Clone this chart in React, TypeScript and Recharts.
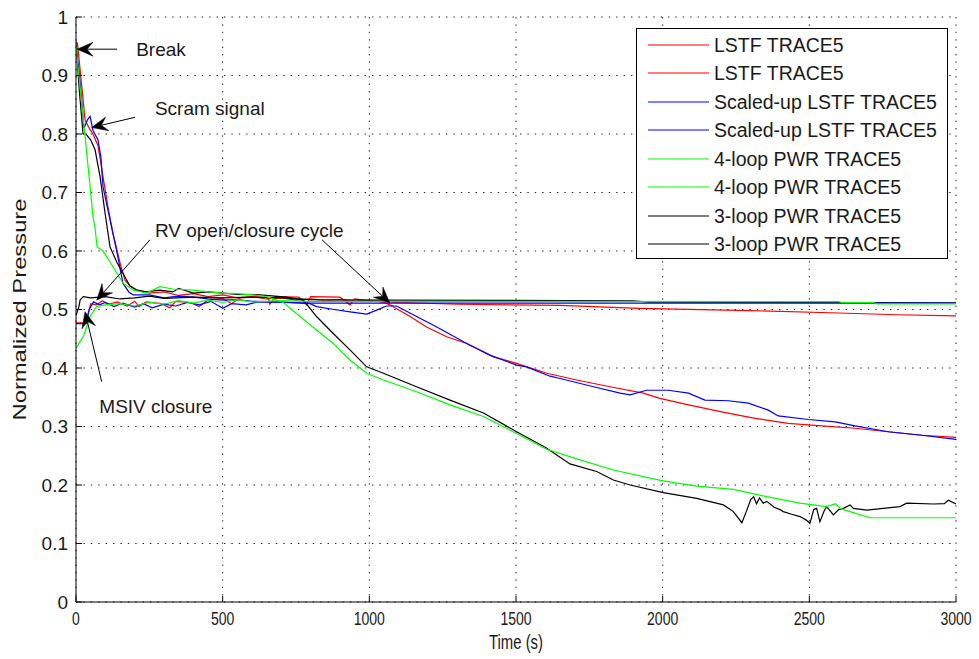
import React from 'react';
import { LineChart, Line, XAxis, YAxis, CartesianGrid, Legend, ReferenceLine, ReferenceDot } from 'recharts';

// ---- data: [time (s), normalized pressure] ----
const LSTF_A: number[][] = [
  [0, 0.958], [5, 0.955], [14, 0.91], [31, 0.824], [45, 0.81], [58, 0.8], [75, 0.78], [92, 0.727], [109, 0.675],
  [126, 0.63], [150, 0.58], [167, 0.55], [184, 0.54], [208, 0.533], [250, 0.528], [300, 0.53], [350, 0.524],
  [400, 0.527], [450, 0.522], [500, 0.525], [550, 0.52], [600, 0.522], [650, 0.518], [700, 0.52], [750, 0.516],
  [800, 0.518], [850, 0.515], [900, 0.517], [950, 0.514], [1000, 0.516], [1050, 0.512], [1070, 0.508],
  [1139, 0.488], [1195, 0.47], [1264, 0.4535], [1332, 0.442], [1423, 0.419], [1502, 0.408], [1605, 0.391],
  [1707, 0.3795], [1820, 0.368], [1934, 0.357], [1990, 0.348], [2088, 0.337], [2201, 0.325], [2315, 0.314],
  [2428, 0.3055], [2542, 0.301], [2656, 0.297], [2769, 0.291], [2883, 0.285], [3000, 0.2815],
];
const LSTF_B: number[][] = [
  [0, 0.477], [30, 0.477], [40, 0.49], [50, 0.51], [70, 0.508], [90, 0.515], [110, 0.509], [140, 0.513],
  [175, 0.506], [200, 0.514], [215, 0.505], [240, 0.513], [290, 0.51], [320, 0.503], [340, 0.514], [390, 0.512],
  [420, 0.505], [450, 0.516], [500, 0.519], [530, 0.51], [560, 0.52], [620, 0.522], [655, 0.52], [661, 0.509],
  [680, 0.522], [760, 0.521], [786, 0.508], [800, 0.522], [900, 0.521], [934, 0.508], [950, 0.518], [1000, 0.515],
  [1100, 0.512], [1300, 0.509], [1650, 0.507], [1922, 0.502], [2300, 0.498], [2600, 0.494], [2800, 0.491], [3000, 0.489],
];
const SCALED_A: number[][] = [
  [0, 0.95], [10, 0.91], [19, 0.86], [27, 0.81], [40, 0.825], [48, 0.83], [58, 0.806], [75, 0.79], [85, 0.76],
  [92, 0.71], [116, 0.653], [140, 0.597], [160, 0.545], [180, 0.53], [195, 0.525], [250, 0.525], [300, 0.52],
  [350, 0.523], [400, 0.521], [450, 0.518], [500, 0.516], [550, 0.517], [600, 0.514], [700, 0.513], [798, 0.51],
  [820, 0.505], [880, 0.5], [934, 0.496], [991, 0.492], [1025, 0.499], [1059, 0.506], [1093, 0.506], [1161, 0.488],
  [1230, 0.47], [1332, 0.442], [1411, 0.422], [1502, 0.405], [1536, 0.402], [1616, 0.386], [1650, 0.382],
  [1764, 0.368], [1855, 0.357], [1889, 0.354], [1945, 0.362], [2019, 0.362], [2088, 0.357], [2144, 0.345],
  [2224, 0.344], [2292, 0.34], [2360, 0.328], [2394, 0.318], [2497, 0.312], [2588, 0.308], [2656, 0.301],
  [2769, 0.291], [2883, 0.285], [3000, 0.278],
];
const SCALED_B: number[][] = [
  [0, 0.476], [35, 0.476], [45, 0.5], [60, 0.513], [80, 0.508], [100, 0.512], [130, 0.505], [160, 0.511],
  [200, 0.504], [230, 0.51], [260, 0.503], [300, 0.509], [340, 0.506], [380, 0.512], [420, 0.508], [460, 0.514],
  [500, 0.502], [530, 0.51], [580, 0.508], [620, 0.513], [700, 0.512], [800, 0.511], [3000, 0.511],
];
const PWR4_A: number[][] = [
  [0, 0.95], [14, 0.88], [31, 0.795], [48, 0.71], [58, 0.658], [65, 0.64], [70, 0.615], [72, 0.607], [92, 0.6],
  [126, 0.573], [160, 0.545], [195, 0.533], [240, 0.528], [286, 0.539], [330, 0.535], [400, 0.533], [450, 0.53],
  [500, 0.528], [550, 0.527], [600, 0.525], [650, 0.522], [684, 0.516], [707, 0.512], [764, 0.488], [820, 0.465],
  [877, 0.442], [934, 0.4137], [991, 0.391], [1048, 0.3795], [1161, 0.3595], [1275, 0.337], [1389, 0.317],
  [1502, 0.288], [1605, 0.261], [1718, 0.243], [1832, 0.2256], [1945, 0.213], [2002, 0.207], [2116, 0.198],
  [2241, 0.1926], [2355, 0.18], [2468, 0.169], [2559, 0.163], [2590, 0.168], [2605, 0.16], [2639, 0.1545],
  [2707, 0.144], [3000, 0.144],
];
const PWR4_B: number[][] = [
  [0, 0.434], [25, 0.454], [48, 0.488], [70, 0.505], [100, 0.508], [150, 0.51], [200, 0.506], [250, 0.512],
  [300, 0.509], [350, 0.515], [400, 0.511], [450, 0.516], [500, 0.512], [550, 0.517], [600, 0.513], [700, 0.515],
  [800, 0.514], [2600, 0.5135], [2610, 0.512], [2720, 0.512], [2730, 0.5095], [3000, 0.5095],
];
const PWR3_A: number[][] = [
  [0, 0.955], [12, 0.87], [24, 0.8], [34, 0.8], [50, 0.79], [65, 0.773], [82, 0.727], [99, 0.665], [116, 0.607],
  [140, 0.58], [160, 0.562], [184, 0.54], [208, 0.533], [240, 0.53], [286, 0.533], [330, 0.53], [350, 0.536],
  [400, 0.528], [450, 0.53], [500, 0.528], [550, 0.526], [627, 0.525], [718, 0.521], [775, 0.516], [820, 0.488],
  [877, 0.459], [934, 0.431], [991, 0.402], [1048, 0.391], [1161, 0.368], [1275, 0.345], [1389, 0.323],
  [1502, 0.291], [1605, 0.263], [1684, 0.236], [1775, 0.223], [1832, 0.2085], [1889, 0.2], [2002, 0.187],
  [2116, 0.177], [2207, 0.166], [2241, 0.1545], [2270, 0.1356], [2287, 0.157], [2300, 0.175], [2310, 0.18],
  [2320, 0.168], [2330, 0.178], [2343, 0.169], [2355, 0.172], [2380, 0.162], [2400, 0.158], [2411, 0.1545],
  [2440, 0.15], [2468, 0.146], [2490, 0.14], [2502, 0.1345], [2515, 0.158], [2525, 0.16], [2536, 0.137],
  [2550, 0.155], [2559, 0.163], [2582, 0.149], [2600, 0.158], [2616, 0.16], [2639, 0.166], [2650, 0.16],
  [2696, 0.157], [2752, 0.16], [2809, 0.163], [2832, 0.169], [2923, 0.1675], [2960, 0.168], [2974, 0.174],
  [3000, 0.1675],
];
const PWR3_B: number[][] = [
  [0, 0.49], [10, 0.505], [14, 0.516], [25, 0.522], [50, 0.52], [100, 0.522], [150, 0.518], [200, 0.52],
  [250, 0.523], [300, 0.519], [400, 0.521], [500, 0.52], [600, 0.521], [700, 0.52], [800, 0.517], [1000, 0.516],
  [1900, 0.515], [1950, 0.5125], [3000, 0.5115],
];

const seriesNames = [
  'LSTF TRACE5', 'LSTF TRACE5', 'Scaled-up LSTF TRACE5', 'Scaled-up LSTF TRACE5',
  '4-loop PWR TRACE5', '4-loop PWR TRACE5', '3-loop PWR TRACE5', '3-loop PWR TRACE5',
];
const seriesColors = ['#ff0000', '#ff0000', '#0000ff', '#0000ff', '#00ff00', '#00ff00', '#000000', '#000000'];
const seriesData = [LSTF_A, LSTF_B, SCALED_A, SCALED_B, PWR4_A, PWR4_B, PWR3_A, PWR3_B];
// drawing order (last on top): keep the flat green secondary above black/blue where the reference shows it
const drawOrder = [0, 1, 2, 6, 7, 3, 4, 5];

const xTicks = [0, 500, 1000, 1500, 2000, 2500, 3000];
const yTicks = [0, 0.1, 0.2, 0.3, 0.4, 0.5, 0.6, 0.7, 0.8, 0.9, 1];

const annotationTexts = [
  { label: 'Break', t: 205, v: 0.945 },
  { label: 'Scram signal', t: 269, v: 0.8436 },
  { label: 'RV open/closure cycle', t: 269, v: 0.6359 },
  { label: 'MSIV closure', t: 79.5, v: 0.3354 },
];
const annotationArrows = [
  { from: [140, 0.945], to: [3.4, 0.945] },
  { from: [201, 0.8285], to: [53.5, 0.811] },
  { from: [252, 0.619], to: [70.6, 0.516] },
  { from: [839, 0.619], to: [1070, 0.511] },
  { from: [87.6, 0.3766], to: [30.7, 0.4962] },
];

const toPts = (a: number[][]) => a.map(([t, v]) => ({ t, v }));

const FONT = "'Liberation Sans', Arial, sans-serif";
const TEXT = '#1a1a1a';
const TM = 8;

const fmtY = (v: number) => (v === 0 ? '0' : v === 1 ? '1' : v.toFixed(1));

const LeftTick = (p: any) => (
  <g>
    <text x={p.x} y={p.y} dy={6.5} textAnchor="end" fontSize={19} fontFamily={FONT} fill={TEXT}>
      {fmtY(p.payload.value)}
    </text>
    <line x1={p.x + TM} x2={p.x + TM + 6} y1={p.y} y2={p.y} stroke="#000" />
  </g>
);
const BottomTick = (p: any) => {
  const s = String(p.payload.value);
  return (
    <g>
      <text x={p.x} y={p.y} dy={15} textAnchor="middle" fontSize={18} fontFamily={FONT} fill={TEXT}
        textLength={s.length * 7.8} lengthAdjust="spacingAndGlyphs">{s}</text>
      <line x1={p.x} x2={p.x} y1={p.y - TM} y2={p.y - TM - 6} stroke="#000" />
    </g>
  );
};
const TopTick = (p: any) => <line x1={p.x} x2={p.x} y1={p.y} y2={p.y + 6} stroke="#000" />;
const RightTick = (p: any) => <line x1={p.x} x2={p.x - 6} y1={p.y} y2={p.y} stroke="#000" />;

const XLabel = (p: any) => {
  const vb = p.viewBox || {};
  return (
    <text x={vb.x + vb.width / 2} y={vb.y + 47} textAnchor="middle" fontSize={20} fontFamily={FONT} fill={TEXT}
      textLength={54} lengthAdjust="spacingAndGlyphs">Time (s)</text>
  );
};
const YLabel = (p: any) => {
  const vb = p.viewBox || {};
  const cx = 26;
  const cy = vb.y + vb.height / 2;
  return (
    <text x={cx} y={cy} transform={`rotate(-90 ${cx} ${cy})`} textAnchor="middle" fontSize={18} fontFamily={FONT}
      fill={TEXT} textLength={222} lengthAdjust="spacingAndGlyphs">Normalized Pressure</text>
  );
};

const arrowShape = (p: any) => {
  const { x1, y1, x2, y2 } = p;
  const dx = x2 - x1;
  const dy = y2 - y1;
  const len = Math.sqrt(dx * dx + dy * dy) || 1;
  const ux = dx / len;
  const uy = dy / len;
  const nx = -uy;
  const ny = ux;
  const L = 16;
  const W = 14;
  const bx = x2 - L * ux;
  const by = y2 - L * uy;
  const ix = x2 - 0.62 * L * ux;
  const iy = y2 - 0.62 * L * uy;
  const pts = `${x2},${y2} ${bx + (W / 2) * nx},${by + (W / 2) * ny} ${ix},${iy} ${bx - (W / 2) * nx},${by - (W / 2) * ny}`;
  return (
    <g>
      <line x1={x1} y1={y1} x2={ix} y2={iy} stroke="#000" strokeWidth={1} />
      <polygon points={pts} fill="#000" stroke="#000" strokeWidth={0.5} />
    </g>
  );
};

const LegendBox = () => (
  <div style={{
    position: 'relative', width: 312, height: 231, border: '1px solid #000', background: '#fff',
    boxSizing: 'border-box', fontFamily: FONT, fontSize: 19.5, color: TEXT,
  }}>
    {seriesNames.map((name, i) => (
      <div key={i} style={{ position: 'absolute', left: 0, top: 16 + i * 28.43 - 14, height: 28, width: 310 }}>
        <svg width={80} height={28} style={{ position: 'absolute', left: 0, top: 0 }}>
          <line x1={11} x2={72} y1={14} y2={14} stroke={seriesColors[i]} strokeWidth={1.2} />
        </svg>
        <span style={{ position: 'absolute', left: 77, top: 3, whiteSpace: 'nowrap', lineHeight: '22px' }}>{name}</span>
      </div>
    ))}
  </div>
);

export default function App() {
  return (
    <div style={{ position: 'absolute', left: 0, top: 0, width: 979, height: 659, background: '#fff' }}>
      <LineChart width={979} height={659} margin={{ top: 17, right: 23, bottom: 0, left: 0 }}>
        <CartesianGrid stroke="#222" strokeDasharray="1.4 6" strokeWidth={1} />
        <XAxis dataKey="t" type="number" domain={[0, 3000]} ticks={xTicks} height={57} tickSize={0} tickMargin={TM}
          tickLine={false} tick={BottomTick} axisLine={{ stroke: '#000' }} label={<XLabel />} allowDataOverflow />
        <XAxis xAxisId="top" orientation="top" type="number" domain={[0, 3000]} ticks={xTicks} height={0}
          tickSize={0} tickMargin={0} tickLine={false} tick={TopTick} axisLine={{ stroke: '#000' }} allowDataOverflow />
        <YAxis type="number" domain={[0, 1]} ticks={yTicks} width={76} tickSize={0} tickMargin={TM} tickLine={false}
          tick={LeftTick} axisLine={{ stroke: '#000' }} label={<YLabel />} allowDataOverflow />
        <YAxis yAxisId="right" orientation="right" type="number" domain={[0, 1]} ticks={yTicks} width={0}
          tickSize={0} tickMargin={0} tickLine={false} tick={RightTick} axisLine={{ stroke: '#000' }} allowDataOverflow />
        {drawOrder.map((i) => (
          <Line key={i} data={toPts(seriesData[i])} dataKey="v" name={seriesNames[i]} type="linear"
            stroke={seriesColors[i]} strokeWidth={1.2} dot={false} activeDot={false} isAnimationActive={false} />
        ))}
        {annotationArrows.map((a, i) => (
          <ReferenceLine key={'a' + i} segment={[{ x: a.from[0], y: a.from[1] }, { x: a.to[0], y: a.to[1] }]}
            ifOverflow="visible" shape={arrowShape} />
        ))}
        {annotationTexts.map((a, i) => (
          <ReferenceDot key={'t' + i} x={a.t} y={a.v} r={0} ifOverflow="visible"
            shape={(p: any) => (
              <text x={p.cx} y={p.cy} dy="0.36em" fontSize={19} fontFamily={FONT} fill={TEXT}>{a.label}</text>
            )} />
        ))}
        <Legend layout="vertical" align="center" verticalAlign="middle" content={() => <LegendBox />}
          wrapperStyle={{ position: 'absolute', left: 636, top: 28, width: 312, height: 231 }} />
      </LineChart>
    </div>
  );
}
